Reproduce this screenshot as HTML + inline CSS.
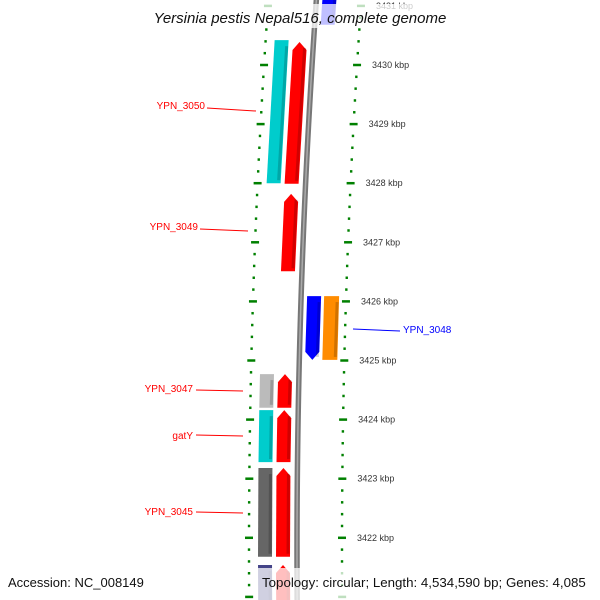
<!DOCTYPE html>
<html><head><meta charset="utf-8"><style>
body{margin:0;background:#fff}
svg{display:block;font-family:"Liberation Sans",sans-serif}
</style></head><body>
<svg id="c" width="600" height="600" viewBox="0 0 600 600">
<g id="g"></g>
<g font-size="10">
<line x1="207" y1="108" x2="256" y2="111" stroke="red"/>
<text x="205" y="109" text-anchor="end" fill="red">YPN_3050</text>
<line x1="200" y1="229" x2="248" y2="231" stroke="red"/>
<text x="198" y="230" text-anchor="end" fill="red">YPN_3049</text>
<line x1="353" y1="329" x2="400" y2="331" stroke="blue"/>
<text x="403" y="333" fill="blue">YPN_3048</text>
<line x1="196" y1="390" x2="243" y2="391" stroke="red"/>
<text x="193" y="392" text-anchor="end" fill="red">YPN_3047</text>
<line x1="196" y1="435" x2="243" y2="436" stroke="red"/>
<text x="193" y="439" text-anchor="end" fill="red">gatY</text>
<line x1="196" y1="512" x2="243" y2="513" stroke="red"/>
<text x="193" y="515" text-anchor="end" fill="red">YPN_3045</text>
</g>
<rect x="145" y="4" width="310" height="24" fill="#fff" fill-opacity="0.75"/>
<text x="300" y="23" text-anchor="middle" font-size="15" font-style="italic" fill="#111">Yersinia pestis Nepal516, complete genome</text>
<rect x="256" y="568" width="344" height="32" fill="#fff" fill-opacity="0.75"/>
<text x="8" y="587" font-size="13" fill="#111">Accession: NC_008149</text>
<text x="262" y="587" font-size="13.3" fill="#111">Topology: circular; Length: 4,534,590 bp; Genes: 4,085</text>
</svg>
<script>
const tickKbp=[3431,3430,3429,3428,3427,3426,3425,3424,3423,3422];
const tickLabels=["3431 kbp","3430 kbp","3429 kbp","3428 kbp","3427 kbp","3426 kbp","3425 kbp","3424 kbp","3423 kbp","3422 kbp"];
const geneNames=["YPN_3050-a","YPN_3050","YPN_3049","YPN_3048","YPN_3048-b","YPN_3047-a","YPN_3047","gatY-a","gatY","YPN_3045-a","YPN_3045","YPN_3044-a","YPN_3044","top-gene"];
const geneStart=[3430.42,3430.39,3427.82,3426.09,3426.09,3424.77,3424.77,3424.16,3424.16,3423.18,3423.18,3421.54,3421.54,3431.2];
const geneEnd=[3428.0,3427.99,3426.51,3425.01,3425.01,3424.2,3424.2,3423.28,3423.28,3421.68,3421.68,3420.8,3420.8,3430.68];
const geneStrand=[0,1,1,-1,0,0,1,0,1,0,1,0,1,0];
const geneColor=["#00cccc","#ff0000","#ff0000","#0000ff","#ff8c00","#bbbbbb","#ff0000","#00cccc","#ff0000","#666666","#ff0000","#444488","#ff0000","#0000ff"];
const geneTrack=[0,1,1,2,3,0,1,0,1,0,1,0,1,2];
const trackOff=[[-84,-70],[-66,-52],[-39,-25],[-22,-7]];
const NS="http://www.w3.org/2000/svg";
const g=document.getElementById('g');
function yOf(k){return 65+(3430-k)*59.1;}
function xR(y){return 342+6.4e-5*(y-550)*(y-550);}
function mk(t,a){const e=document.createElementNS(NS,t);for(const k in a)e.setAttribute(k,a[k]);g.appendChild(e);return e;}
let pts=[];for(let y=-5;y<=605;y+=10)pts.push((xR(y)-45)+","+y);
const bb=mk('polyline',{points:pts.join(' '),fill:'none',stroke:'#777','stroke-width':5.5});


const bb2=mk('polyline',{points:pts.join(' '),fill:'none',stroke:'#aaa','stroke-width':1.5});


for(let i=0;i<geneNames.length;i++){
 let y1=yOf(geneStart[i]),y2=yOf(geneEnd[i]);
 const o=trackOff[geneTrack[i]];
 const a=xR(y1)+o[0],b=xR(y1)+o[1],c=xR(y2)+o[1],d=xR(y2)+o[0];
 let p;
 if(geneStrand[i]===1){const m=(a+b)/2;p=[[m,y1],[b,y1+8],[c,y2],[d,y2],[a,y1+8]];}
 else if(geneStrand[i]===-1){const m=(c+d)/2;p=[[a,y1],[b,y1],[c,y2-8],[m,y2],[d,y2-8]];}
 else p=[[a,y1],[b,y1],[c,y2],[d,y2]];
 const e=mk('polygon',{points:p.map(q=>q.join(',')).join(' '),fill:geneColor[i]});
 
 
 const s=mk('line',{x1:b-2,y1:y1+6,x2:c-2,y2:y2-3,stroke:'#000','stroke-opacity':0.18,'stroke-width':3});
 
 
}
for(let k=3432;k>=3420.6;k-=0.2){
 const kk=Math.round(k*10)/10;const y=yOf(kk);if(y<-5||y>605)continue;
 const major=Math.abs(kk-Math.round(kk))<0.01;const w=major?4:1.2;
 for(const off of [0,-93]){
  const x=xR(y)+off;
  const t=mk('line',{x1:x-w,y1:y,x2:x+w,y2:y,stroke:'#008000','stroke-width':2.5});
  
  
 }
}
for(let i=0;i<tickKbp.length;i++){
 const y=yOf(tickKbp[i]);
 const t=mk('text',{x:xR(y)+15,y:y+3,'font-size':9,fill:'#333'});
 t.textContent=tickLabels[i];
 
 
}
</script>
</body></html>
